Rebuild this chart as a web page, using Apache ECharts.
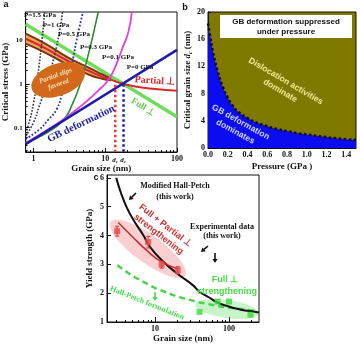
<!DOCTYPE html>
<html>
<head>
<meta charset="utf-8">
<script src="https://cdn.jsdelivr.net/npm/echarts@6/dist/echarts.min.js"></script>
<style>
html,body{margin:0;padding:0;background:#fff;}
#main{width:360px;height:344px;}
</style>
</head>
<body>
<div id="main"></div>
<script>
// ---------- Panel a: critical stress vs grain size (log-log) ----------
const aXTicks = [1, 10, 100];
const aYTicks = [0.1, 1, 10];
const aXMinor = [0.8, 0.9, 2, 3, 4, 5, 6, 7, 8, 9, 20, 30, 40, 50, 60, 70, 80, 90];
const aYMinor = [0.03, 0.04, 0.05, 0.06, 0.07, 0.08, 0.09, 0.2, 0.3, 0.4, 0.5, 0.6, 0.7, 0.8, 0.9, 2, 3, 4, 5, 6, 7, 8, 9, 20, 30, 40];

const fullDislocation = [[0.78, 22.5], [100, 0.177]];
const gbDeformation = [[0.78, 0.042], [100, 5.9]];
const partialUpper = [[0.78, 13.8], [1.5, 8], [3, 4], [6, 2.3], [9, 1.65], [12, 1.3]];
const partialLower = [[0.78, 8.2], [1.5, 5], [3, 2.7], [6, 1.6], [9, 1.3], [12, 1.2]];
const partialCenter = [[0.78, 10.6], [1.5, 6.3], [3, 3.3], [6, 1.95], [9, 1.45], [12, 1.24], [16, 1.05], [25, 0.88], [50, 0.76], [100, 0.69]];
const pressure15 = [[0.78, 0.075], [0.9, 0.16], [1.0, 0.35], [1.1, 0.9], [1.2, 2.6], [1.3, 8], [1.38, 22], [1.43, 43]];
const pressure10 = [[0.78, 0.065], [1.0, 0.13], [1.2, 0.3], [1.5, 0.9], [1.8, 2.5], [2.1, 7], [2.35, 18], [2.55, 43]];
const pressure05 = [[0.78, 0.055], [1.2, 0.09], [1.6, 0.15], [2.1, 0.26], [2.6, 0.7], [3.2, 1.78], [3.6, 4], [3.95, 9], [4.4, 20], [4.9, 43]];
const pressure03 = [[0.78, 0.046], [1.5, 0.075], [2.7, 0.16], [3.5, 0.35], [4.4, 0.9], [5.2, 2.3], [6.2, 7], [7.1, 18], [8, 43]];
const pressure01 = [[0.78, 0.045], [2, 0.115], [4, 0.26], [6, 0.45], [8, 0.7], [10, 1.0], [12.5, 1.7], [15, 3.4], [18, 7.5], [21, 15], [23.5, 43]];
const criticalPartial = [[13.8, 0.95], [13.8, 0.028]];
const criticalFull = [[18, 0.98], [18, 0.028]];

// ---------- Panel b: critical grain size vs pressure ----------
const bXTicks = [0, 0.2, 0.4, 0.6, 0.8, 1.0, 1.2, 1.4];
const pressureGPa = [0, 0.02, 0.05, 0.1, 0.15, 0.2, 0.25, 0.3, 0.4, 0.5, 0.6, 0.7, 0.8, 0.9, 1.0, 1.1, 1.2, 1.3, 1.4, 1.5];
const criticalSize = [18.3, 16.6, 14.2, 11.2, 9.0, 7.4, 6.2, 5.4, 4.4, 3.7, 3.2, 2.8, 2.5, 2.2, 2.0, 1.8, 1.6, 1.45, 1.3, 1.2];

// ---------- Panel c: yield strength vs grain size ----------
const cXTicks = [10, 100];
const cXMinor = [3, 4, 5, 6, 7, 8, 9, 20, 30, 40, 50, 60, 70, 80, 90, 200];
const cYTicks = [1, 2, 3, 4, 5, 6];
const modifiedHallPetch = [[3.0, 6.0], [3.5, 5.45], [4.2, 4.95], [5.1, 4.55], [7, 4.0], [8.6, 3.6], [12.9, 3.1], [19.5, 2.7], [32.4, 2.28], [40, 2.05], [54, 1.85], [69, 1.68], [90, 1.57], [120, 1.48], [150, 1.42], [200, 1.37], [254, 1.33]];
const hallPetch = [[3.1, 2.97], [5, 2.59], [10, 2.18], [20, 1.88], [40, 1.68], [80, 1.53], [160, 1.43], [245, 1.38]];
const partialFit = [[3.2, 4.45], [5, 3.95], [8, 3.45], [12, 3.1], [20, 2.85]];
const redSize = [3.08, 8.1, 12.3, 20.3];
const redStrength = [4.15, 3.77, 2.99, 2.8];
const redError = [0.17, 0.2, 0.12, 0.12];
const greenSize = [40, 70, 100, 195];
const greenStrength = [1.35, 1.71, 1.71, 1.25];

const SERIF = 'Liberation Serif';
const SANS = 'Liberation Sans';
const tickLabel = {fontFamily: SERIF, fontWeight: 'bold', fontSize: 8, color: '#111', margin: 3};
const nameStyle = {fontFamily: SERIF, fontWeight: 'bold', fontSize: 9, color: '#111'};
const axisLine = {show: true, lineStyle: {color: '#111', width: 1}};

function minorAxis(gridIndex, min, max, values, position) {
  return {
    type: 'log', gridIndex, min, max, position,
    axisLine: {show: false}, axisLabel: {show: false}, splitLine: {show: false},
    axisTick: {show: true, inside: true, length: 2, customValues: values, lineStyle: {color: '#111'}}
  };
}

const chart = echarts.init(document.getElementById('main'));

function curve(xi, yi, data, color, width, type, smooth) {
  return {
    type: 'line', xAxisIndex: xi, yAxisIndex: yi, data, symbol: 'none', smooth: smooth || false,
    lineStyle: {color, width, type: type || 'solid'}, silent: true, clip: true
  };
}

// axis indices: x -> 0 a, 1 a-minor, 2 b, 3 c, 4 c-minor ; y -> 0 a, 1 a-minor, 2 b, 3 c
const option = {
  animation: false,
  textStyle: {fontFamily: SERIF},
  grid: [
    {left: 24, top: 12, width: 153, height: 140, show: true, borderColor: '#111', borderWidth: 1, backgroundColor: 'transparent'},
    {left: 208, top: 12, width: 148, height: 136, show: true, borderColor: '#111', borderWidth: 1, backgroundColor: '#7f7900'},
    {left: 107, top: 175, width: 152, height: 149, show: true, borderColor: '#111', borderWidth: 1, backgroundColor: 'transparent'}
  ],
  xAxis: [
    {type: 'log', gridIndex: 0, min: 0.78, max: 100, position: 'bottom',
      name: 'Grain size (nm)', nameLocation: 'middle', nameGap: 12, nameTextStyle: nameStyle,
      axisLine, splitLine: {show: false},
      axisTick: {inside: true, length: 4, customValues: aXTicks, lineStyle: {color: '#111'}},
      axisLabel: Object.assign({customValues: aXTicks, formatter: v => String(v)}, tickLabel)},
    minorAxis(0, 0.78, 100, aXMinor, 'bottom'),
    {type: 'value', gridIndex: 1, min: 0, max: 1.5, position: 'bottom',
      name: 'Pressure (GPa )', nameLocation: 'middle', nameGap: 14, nameTextStyle: nameStyle,
      axisLine, splitLine: {show: false},
      axisTick: {inside: true, length: 3, customValues: bXTicks, lineStyle: {color: '#111'}},
      axisLabel: Object.assign({customValues: bXTicks, formatter: v => v.toFixed(1)}, tickLabel)},
    {type: 'log', gridIndex: 2, min: 2.25, max: 254, position: 'bottom',
      name: 'Grain size (nm)', nameLocation: 'middle', nameGap: 12, nameTextStyle: nameStyle,
      axisLine, splitLine: {show: false},
      axisTick: {inside: true, length: 5, customValues: cXTicks, lineStyle: {color: '#111'}},
      axisLabel: Object.assign({customValues: cXTicks, formatter: v => String(v)}, tickLabel)},
    minorAxis(2, 2.25, 254, cXMinor, 'bottom')
  ],
  yAxis: [
    {type: 'log', gridIndex: 0, min: 0.028, max: 43, position: 'left',
      name: 'Critical stress (GPa)', nameLocation: 'middle', nameGap: 14, nameTextStyle: nameStyle,
      axisLine, splitLine: {show: false},
      axisTick: {inside: true, length: 4, customValues: aYTicks, lineStyle: {color: '#111'}},
      axisLabel: Object.assign({customValues: aYTicks, formatter: v => String(v)}, tickLabel, {fontSize: 7})},
    minorAxis(0, 0.028, 43, aYMinor, 'left'),
    {type: 'value', gridIndex: 1, min: 0, max: 20, interval: 4, position: 'left',
      name: '{t|Critical grain size }{i|d}{s|c}{t| (nm)}', nameLocation: 'middle', nameGap: 15,
      nameTextStyle: {rich: {
        t: {fontFamily: SERIF, fontWeight: 'bold', fontSize: 9, color: '#111'},
        i: {fontFamily: SERIF, fontWeight: 'bold', fontStyle: 'italic', fontSize: 9, color: '#111'},
        s: {fontFamily: SERIF, fontWeight: 'bold', fontStyle: 'italic', fontSize: 6, color: '#111', padding: [4, 0, 0, 0]}
      }},
      axisLine, splitLine: {show: false},
      axisTick: {inside: true, length: 3, lineStyle: {color: '#111'}},
      axisLabel: tickLabel},
    {type: 'value', gridIndex: 2, min: 1, max: 6.1, position: 'left',
      name: 'Yield strength (GPa)', nameLocation: 'middle', nameGap: 13, nameTextStyle: nameStyle,
      axisLine, splitLine: {show: false},
      axisTick: {inside: true, length: 4, customValues: cYTicks, lineStyle: {color: '#111'}},
      axisLabel: Object.assign({customValues: cYTicks}, tickLabel)}
  ],
  series: [
    // panel a
    curve(0, 0, fullDislocation, '#6fdc5a', 3.5),
    {type: 'custom', xAxisIndex: 0, yAxisIndex: 0, data: [partialUpper[0]], silent: true, clip: true, z: 2,
      renderItem: (params, api) => {
        const pts = partialUpper.concat(partialLower.slice().reverse()).map(p => api.coord(p));
        return {type: 'polygon', shape: {points: pts}, style: {fill: '#f2a35a'}};
      }},
    curve(0, 0, partialUpper, '#7a3410', 2, 'solid', true),
    curve(0, 0, partialLower, '#7a3410', 2, 'solid', true),
    curve(0, 0, partialCenter, '#d42a2a', 2, 'solid', true),
    curve(0, 0, pressure15, '#333333', 1.6, 'dotted', true),
    curve(0, 0, pressure10, '#333355', 1.6, 'dotted', true),
    curve(0, 0, pressure05, '#2233aa', 1.8, 'dotted', true),
    curve(0, 0, pressure03, '#2e8b2e', 1.6, 'solid', true),
    curve(0, 0, pressure01, '#e040e0', 1.8, 'solid', true),
    curve(0, 0, gbDeformation, '#1c1ca8', 2.5),
    curve(0, 0, criticalPartial, '#e03c3c', 2.5, 'dotted'),
    curve(0, 0, criticalFull, '#1c1ca8', 2.5, 'dotted'),
    // panel b
    {type: 'line', xAxisIndex: 2, yAxisIndex: 2, data: pressureGPa.map((p, i) => [p, criticalSize[i]]),
      symbol: 'none', smooth: true, silent: true,
      lineStyle: {color: '#111', width: 2.5, type: 'dotted'},
      areaStyle: {color: '#0c0cf0', opacity: 1}},
    // panel c
    curve(3, 3, hallPetch, '#49d24a', 2.5, [6, 4]),
    curve(3, 3, modifiedHallPetch, '#111', 2, 'solid', true),
    curve(3, 3, partialFit, '#c62a2a', 1.5, 'solid', true),
    {type: 'custom', xAxisIndex: 3, yAxisIndex: 3, silent: true, z: 4,
      data: redSize.map((d, i) => [d, redStrength[i], redError[i]]),
      encode: {x: 0, y: 1},
      renderItem: (params, api) => {
        const x = api.value(0), y = api.value(1), e = api.value(2);
        const t = api.coord([x, y + e]), b = api.coord([x, y - e]);
        const st = {stroke: '#e04848', lineWidth: 1.2};
        return {type: 'group', children: [
          {type: 'line', shape: {x1: t[0], y1: t[1], x2: b[0], y2: b[1]}, style: st},
          {type: 'line', shape: {x1: t[0] - 2, y1: t[1], x2: t[0] + 2, y2: t[1]}, style: st},
          {type: 'line', shape: {x1: b[0] - 2, y1: b[1], x2: b[0] + 2, y2: b[1]}, style: st}
        ]};
      }},
    {type: 'scatter', xAxisIndex: 3, yAxisIndex: 3, symbol: 'rect', symbolSize: 6, silent: true, z: 5,
      itemStyle: {color: '#e8484a'}, data: redSize.map((d, i) => [d, redStrength[i]])},
    {type: 'scatter', xAxisIndex: 3, yAxisIndex: 3, symbol: 'rect', symbolSize: 6, silent: true, z: 5,
      itemStyle: {color: '#3bd83b'}, data: greenSize.map((d, i) => [d, greenStrength[i]])}
  ]
};
chart.setOption(option);

// ---------- annotations ----------
function text(x, y, str, o) {
  return {type: 'text', x, y, rotation: o.rot || 0, z: 30, silent: true,
    style: {text: str, fill: o.color || '#111', fontFamily: o.font || SERIF, fontWeight: o.weight || 'bold',
      fontStyle: o.style || 'normal', fontSize: o.size || 8, align: 'center', verticalAlign: 'middle',
      lineHeight: o.lh || (o.size || 8) + 2, rich: o.rich}};
}
function arrow(x1, y1, x2, y2, color, z) {
  const ang = Math.atan2(y2 - y1, x2 - x1), h = 4, w = 2.6;
  const bx = x2 - h * Math.cos(ang), by = y2 - h * Math.sin(ang);
  const px = -Math.sin(ang) * w, py = Math.cos(ang) * w;
  return {type: 'group', z: z || 30, silent: true, children: [
    {type: 'line', shape: {x1, y1, x2: bx, y2: by}, style: {stroke: color, lineWidth: 1.6}},
    {type: 'polygon', shape: {points: [[x2, y2], [bx + px, by + py], [bx - px, by - py]]}, style: {fill: color}}
  ]};
}
function ellipse(center, rx, ry, rotDeg, fill, z) {
  return {type: 'circle', x: center[0], y: center[1], scaleX: rx, scaleY: ry,
    rotation: rotDeg * Math.PI / 180, z, silent: true, shape: {cx: 0, cy: 0, r: 1}, style: {fill}};
}

const aPx = p => chart.convertToPixel({xAxisIndex: 0, yAxisIndex: 0}, p);
const cPx = p => chart.convertToPixel({xAxisIndex: 3, yAxisIndex: 3}, p);

const dRich = {
  d: {fontFamily: SERIF, fontStyle: 'italic', fontWeight: 'bold', fontSize: 7, color: '#111'},
  s: {fontFamily: SERIF, fontStyle: 'italic', fontWeight: 'bold', fontSize: 5, color: '#111', padding: [3, 0, 0, 0]}
};

const graphics = [
  // panel letters
  text(6, 5, 'a', {size: 9, font: SANS}),
  text(185, 8, 'b', {size: 9, font: SANS}),
  text(96, 178, 'c', {size: 9, font: SANS}),

  // panel a
  ellipse(aPx([2.21, 1.23]), 28, 16, 20, '#d2691a', 12),
  text(57, 80, 'Partial slips\nfavored', {size: 7, color: '#ffe2b8', rot: 0.35, lh: 9, style: 'italic'}),
  arrow(66, 61, 66, 70, '#7a3410'),
  text(40, 15, 'P=1.5 GPa', {size: 7}),
  text(56, 25, 'P=1 GPa', {size: 7}),
  text(74, 34, 'P=0.5 GPa', {size: 7}),
  text(96, 47, 'P=0.3 GPa', {size: 7}),
  text(118, 57, 'P=0.1 GPa', {size: 7}),
  text(140, 67, 'P=0 GPa', {size: 7}),
  text(155, 81, 'Partial ⊥', {size: 10, color: '#d42a2a', rot: -0.06}),
  text(143, 107, 'Full ⊥', {size: 9, color: '#5fcf45', rot: -0.55}),
  text(81, 124, 'GB deformation', {size: 10.5, color: '#1c1ca8', rot: 0.45}),
  text(115, 160, '{d|d}{s|c}', {rich: dRich}),
  text(123, 160, '{d|d}{s|c}', {rich: dRich}),

  // panel b
  {type: 'rect', z: 25, silent: true, shape: {x: 220, y: 15, width: 132, height: 23}, style: {fill: '#fff'}},
  text(286, 27, 'GB deformation suppressed\nunder pressure', {size: 8, font: SANS, lh: 10}),
  text(283, 86, 'Dislocation activities\ndominate', {size: 8.5, font: SANS, color: '#f4e99a', rot: -0.53, lh: 11}),
  text(238, 127, 'GB deformation\ndominates', {size: 8.5, font: SANS, color: '#cfd8ff', rot: -0.5, lh: 11}),

  // panel c
  ellipse(cPx([8.05, 3.54]), 46, 14, -36, 'rgba(240,110,110,0.33)', 1),
  ellipse(cPx([94, 1.45]), 32, 9, -8, 'rgba(120,225,120,0.4)', 1),
  text(175, 186, 'Modified Hall-Petch', {size: 8}),
  text(175, 197, '(this work)', {size: 8}),
  arrow(136, 193, 129, 200, '#111'),
  text(162, 230, 'Full + Partial ⊥\nstrengthening', {size: 9, font: SANS, color: '#d03030', rot: -0.66, lh: 11}),
  text(222, 227, 'Experimental data', {size: 8}),
  text(222, 236, '(this work)', {size: 8}),
  arrow(208, 246, 201, 252, '#111'),
  arrow(215, 253, 215, 263, '#111'),
  text(225, 280, 'Full ⊥', {size: 9, font: SANS, color: '#45dd45'}),
  text(227, 292, 'strengthening', {size: 9, font: SANS, color: '#45dd45'}),
  text(147, 303, 'Hall-Petch formulation', {size: 8, color: '#45dd45', rot: -0.38}),
  arrow(155, 292, 155, 301, '#45dd45')
];
chart.setOption({graphic: graphics});
</script>
</body>
</html>
